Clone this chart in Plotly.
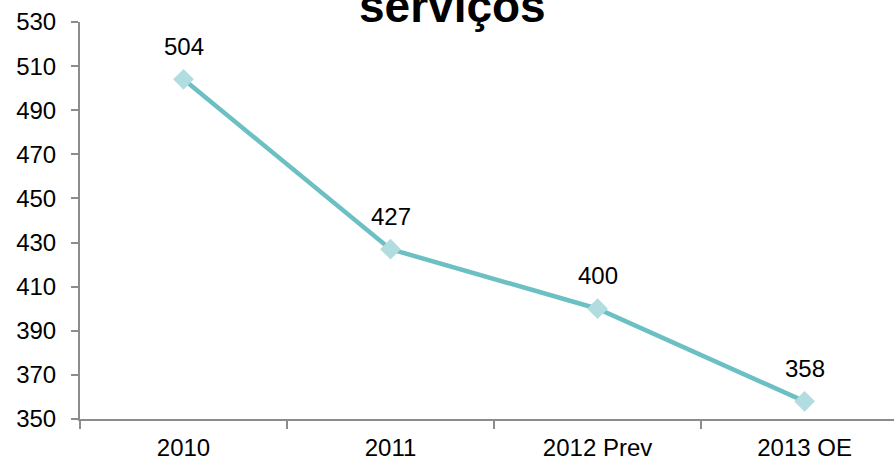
import plotly.graph_objects as go

# Series: yearly values
categories = ["2010", "2011", "2012 Prev", "2013 OE"]
values = [504, 427, 400, 358]
y_ticks = [350, 370, 390, 410, 430, 450, 470, 490, 510, 530]

x_pos = list(range(len(categories)))
font_family = "Arial, Liberation Sans, sans-serif"
axis_grey = "#8c8c8c"

fig = go.Figure()
fig.add_trace(go.Scatter(
    x=x_pos,
    y=values,
    mode="lines+markers",
    line=dict(color="#6cc0c4", width=4.5),
    marker=dict(symbol="diamond", size=16, color="#b2dde0", line=dict(width=0)),
    hoverinfo="skip",
    showlegend=False,
))

# Value labels above each point
for xi, v in zip(x_pos, values):
    fig.add_annotation(
        x=xi, y=v, text=str(v), showarrow=False,
        yshift=33, font=dict(family=font_family, size=24, color="#000000"),
    )

fig.update_layout(
    width=894, height=462,
    margin=dict(l=80, r=0, t=22, b=43),
    paper_bgcolor="white", plot_bgcolor="white",
    font=dict(family=font_family, size=24, color="#000000"),
    title=dict(
        text="<b>serviços</b>",
        x=0.506, xanchor="center",
        y=0.987, yanchor="middle", yref="container",
        font=dict(family=font_family, size=46, color="#000000"),
    ),
)

fig.update_xaxes(
    range=[-0.5, 3.432], automargin=False,
    tickmode="array", tickvals=x_pos, ticktext=categories,
    ticks="", ticklabelstandoff=6,
    showline=True, linecolor=axis_grey, linewidth=2,
    showgrid=False, zeroline=False,
    minor=dict(tickvals=[-0.5, 0.5, 1.5, 2.5], ticks="outside",
               ticklen=8, tickwidth=2, tickcolor=axis_grey, showgrid=False),
)

fig.update_yaxes(
    range=[350, 530], automargin=False,
    tickmode="array", tickvals=y_ticks,
    ticks="outside", ticklen=7, tickwidth=2, tickcolor=axis_grey,
    ticklabelstandoff=10,
    showline=True, linecolor=axis_grey, linewidth=2,
    showgrid=False, zeroline=False,
)

fig.write_html("out.html")
